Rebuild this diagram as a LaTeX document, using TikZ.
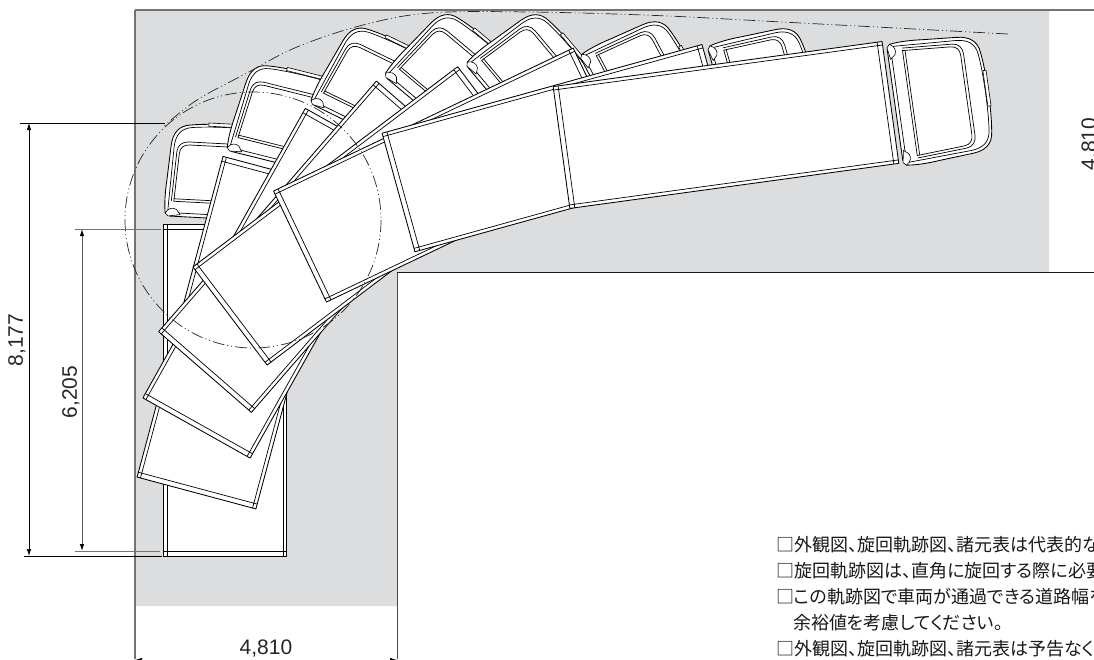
\documentclass[tikz,border=0pt]{standalone}
\usepackage{fontspec}
\setmainfont{Liberation Sans}
\newfontfamily\jpfont[RawFeature={+palt}]{Noto Sans CJK JP}
\usetikzlibrary{arrows.meta}
\definecolor{road}{HTML}{DCDDDE}
\tikzset{
  veh/.style={draw=black,line width=.85pt,fill=white,line join=round},
  vln/.style={draw=black,line width=.7pt},
  track/.style={draw=black!85,line width=.7pt,dash pattern=on 12pt off 3pt on 1pt off 3pt on 1pt off 3pt},
  dimA/.style={draw=black,line width=.7pt,{Latex[length=7pt,width=4.5pt]}-{Latex[length=7pt,width=4.5pt]}},
  dimB/.style={draw=black!65,line width=.9pt,{Latex[length=7pt,width=4.5pt,black]}-{Latex[length=7pt,width=4.5pt,black]}},
  ext/.style={draw=black,line width=.7pt},
  extg/.style={draw=black!55,line width=.9pt},
  dimtext/.style={font=\fontsize{21}{24}\selectfont,text=black!85,inner sep=0pt},
  note/.style={font=\jpfont\fontsize{18}{20}\selectfont,text=black!90,inner sep=0pt,anchor=base west},
  localframe/.style={yscale=-1}
}
\newcommand{\Trailer}[3]{%
  \begin{scope}[shift={(#1,#2)},rotate=-#3,localframe]
    \path[veh] (-61.5,0) rectangle (61.5,332);
    \draw[vln] (-58,0)--(-58,332) (58,0)--(58,332)
      (-61.5,5)--(61.5,5) (-61.5,327)--(61.5,327);
  \end{scope}}
\newcommand{\Cab}[3]{%
  \begin{scope}[shift={(#1,#2)},rotate=-#3,localframe]
    \path[veh] (-61,2) .. controls (-62.5,12) and (-62,25) .. (-61,35)
      -- (-58.5,70) .. controls (-57.5,82) and (-52,90) .. (-40,91)
      .. controls (-20,94) and (20,94) .. (40,91)
      .. controls (52,90) and (57.5,82) .. (58.5,70)
      -- (61,35) .. controls (62,25) and (62.5,12) .. (61,2)
      -- (56,-1) -- (-56,-1) -- cycle;
    \draw[vln] (-58.5,5) -- (-55.5,69) .. controls (-54.5,80) and (-50,87) .. (-39,88.5)
      .. controls (-20,91) and (20,91) .. (39,88.5)
      .. controls (50,87) and (54.5,80) .. (55.5,69) -- (58.5,5);
    \draw[vln] (-53,14) -- (-50,62) .. controls (-49.5,68) and (-46,71) .. (-40,71)
      -- (40,71) .. controls (46,71) and (49.5,68) .. (50,62) -- (53,14) -- cycle;
    \draw[vln] (-55.5,14) -- (-52.5,64) .. controls (-52,70) and (-48,74) .. (-41,74)
      -- (41,74) .. controls (48,74) and (52,70) .. (52.5,64) -- (55.5,14);
    \draw[vln] (-53,16.5) -- (53,16.5);
    \draw[vln] (-58,2.5) -- (58,2.5);
    \path[veh,line width=.6pt] (-61,2) .. controls (-58,7) and (-54,8) .. (-50,6) -- (-46,1) -- (-58,-1) -- cycle;
    \path[veh,line width=.6pt] (61,2) .. controls (58,7) and (54,8) .. (50,6) -- (46,1) -- (58,-1) -- cycle;
    \path[veh,line width=.6pt] (-22,90.8) rectangle (14,94);
  \end{scope}}
\begin{document}
\begin{tikzpicture}[x=1pt,y=-1pt]
\useasboundingbox (0,0) rectangle (1094,659);
\clip (0,0) rectangle (1094,659);
\fill[white] (0,0) rectangle (1094,659);
\fill[road] (135,10) -- (1049,10) -- (1049,272) -- (397,272) -- (397,606) -- (135,606) -- cycle;
\draw[black!55,line width=1.3pt] (135,10) -- (1094,10);
\draw[black!55,line width=1.3pt] (135,10) -- (135,659);
\draw[black!70,line width=.9pt] (397,659) -- (397,272);
\draw[black!90,line width=.9pt] (397,272) -- (1094,272);
% trucks, rear-most pose first
\Cab{226}{218}{3}
\Trailer{225}{556}{0}
\Cab{286}{164}{14}
\Trailer{196.5}{493}{15}
\Cab{365}{129}{26}
\Trailer{196.5}{428}{29.3}
\Cab{431}{114}{40}
\Trailer{205}{372}{41}
\Cab{505}{110}{50}
\Trailer{230}{316}{52.9}
\Cab{608.8}{109}{62}
\Trailer{300}{246.5}{64.5}
\Cab{724.9}{105}{74}
\Trailer{398.5}{192.5}{74.5}
\Cab{896}{105}{82}
\Trailer{561.5}{147.5}{82.2}
% swept paths
\draw[track] (253,220) circle (128);
\draw[track] plot[smooth,tension=.6] coordinates {(1008,34) (782,22) (656,15.5) (530,12) (430,13) (363,25) (297,47) (247,73) (197,100) (163,127)};
% dimensions
\coordinate (a1) at (29,123); \coordinate (a2) at (29,556);
\coordinate (a1e) at (165,123); \coordinate (a1s) at (20,123);
\coordinate (a2e) at (162,556); \coordinate (a2s) at (24,556);
\draw[ext] (a1s) -- (a1e);
\draw[ext] (a2s) -- (a2e);
\draw[dimA] (a1) -- (a2);
\coordinate (b1) at (82,229); \coordinate (b2) at (82,551);
\coordinate (b1e) at (161,229); \coordinate (b1s) at (75,229);
\coordinate (b2e) at (160,551); \coordinate (b2s) at (75,551);
\draw[extg] (b1s) -- (b1e);
\draw[extg] (b2s) -- (b2e);
\draw[dimB] (b1) -- (b2);
\coordinate (c1) at (135,660); \coordinate (c2) at (397,660);
\draw[dimA] (c1) -- (c2);
\node[dimtext,rotate=90] (t1) at (17,340) {8,177};
\node[dimtext,rotate=90] (t2) at (71,392) {6,205};
\node[dimtext] (t3) at (266,648) {4,810};
\node[dimtext,rotate=90] (t4) at (1090,144) {4,810};
% notes
\node[note] (n1) at (776,551) {□外観図、旋回軌跡図、諸元表は代表的な};
\node[note] (n2) at (776,577) {□旋回軌跡図は、直角に旋回する際に必要};
\node[note] (n3) at (776,603) {□この軌跡図で車両が通過できる道路幅を};
\node[note] (n4) at (793,629) {余裕値を考慮してください。};
\node[note] (n5) at (776,655) {□外観図、旋回軌跡図、諸元表は予告なく};
\end{tikzpicture}
\end{document}
